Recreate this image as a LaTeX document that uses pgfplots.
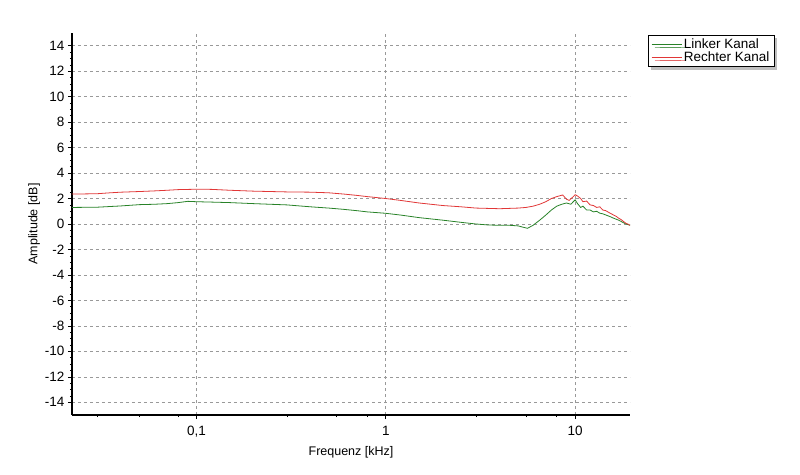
\documentclass[border=0pt]{standalone}
\usepackage{pgfplots}
\pgfplotsset{compat=1.18}
\usepackage{fontspec}
\setmainfont{Liberation Sans}
\usetikzlibrary{shadows}
\definecolor{lgreen}{RGB}{40,130,40}
\definecolor{rred}{RGB}{225,55,55}
\begin{document}
\begin{tikzpicture}[x=1pt,y=1pt]
\path[use as bounding box] (0,0) rectangle (800,474);
\begin{axis}[
  at={(72pt,59pt)}, anchor=south west,
  scale only axis, width=558pt, height=382pt,
  xmode=log, log basis x=10,
  xmin=0.022, xmax=19.5, ymin=-15, ymax=15,
  axis lines=left, axis line style={line width=1.6pt, -},
  xtick={0.1,1,10}, xticklabels={{0,1},1,10},
  minor xtick={0.03,0.05,0.08,0.3,0.55,0.8,3,5.5,8},
  ytick={-14,-12,...,14}, minor y tick num=3,
  tick style={black, line width=0.6pt},
  major tick length=4pt, minor tick length=2pt,
  tick align=outside,
  xmajorgrids, ymajorgrids,
  grid style={gray!80, dashed, line width=0.6pt},
  tick label style={font=\fontsize{13.5}{15}\selectfont},
  xticklabel style={yshift=-4pt},
  /pgf/number format/assume math mode=true,
  xlabel={Frequenz [kHz]}, ylabel={Amplitude [dB]},
  label style={font=\fontsize{12.5}{14}\selectfont},
  xlabel style={yshift=-2pt},
  ylabel style={yshift=-2pt},
  legend style={at={(1.032,0.995)}, anchor=north west, draw=black, line width=0.5pt,
    font=\fontsize{13.5}{15}\selectfont, drop shadow={shadow xshift=3pt, shadow yshift=-3pt, fill=black!50},
    inner xsep=3pt, inner ysep=2pt, row sep=-3pt, fill=white},
  legend cell align=left,
  legend image code/.code={\path (0pt,0pt) -- (30pt,0pt); \draw[#1, line width=0.8pt] (5pt,0pt) -- (26pt,0pt);},
  clip=false,
]
\addplot[lgreen, line width=0.8pt] coordinates {
(0.022,1.3) (0.03,1.32) (0.04,1.42) (0.05,1.52) (0.06,1.55) (0.07,1.6) (0.08,1.68) (0.09,1.78)
(0.1,1.75) (0.12,1.72) (0.15,1.68) (0.2,1.6) (0.3,1.5) (0.4,1.35) (0.5,1.25) (0.6,1.15)
(0.7,1.05) (0.8,0.95) (1.0,0.84) (1.2,0.7) (1.5,0.5) (2.0,0.3) (2.5,0.13) (3.0,0.0)
(3.5,-0.08) (4.0,-0.1) (4.5,-0.1) (5.0,-0.15) (5.6,-0.34) (6.0,-0.1) (6.5,0.3) (7.0,0.7)
(7.5,1.1) (8.0,1.4) (8.5,1.55) (9.0,1.65) (9.5,1.55) (10.0,1.9) (10.3,1.6) (10.7,1.3)
(11.0,1.4) (11.5,1.1) (12.0,1.1) (12.5,0.95) (13.0,1.0) (13.5,0.85) (14.0,0.8) (15.3,0.58)
(16.0,0.45) (17.0,0.3) (18.0,0.1) (18.6,0.0) (19.5,-0.1)
};
\addlegendentry{Linker Kanal}
\addplot[rred, line width=0.8pt] coordinates {
(0.022,2.36) (0.025,2.36) (0.03,2.38) (0.035,2.45) (0.04,2.5) (0.05,2.55) (0.06,2.6) (0.07,2.65)
(0.08,2.7) (0.1,2.73) (0.12,2.72) (0.15,2.65) (0.2,2.58) (0.3,2.52) (0.4,2.5) (0.5,2.45)
(0.6,2.35) (0.7,2.25) (0.8,2.15) (1.0,2.0) (1.2,1.85) (1.5,1.65) (2.0,1.45) (2.5,1.35)
(3.0,1.25) (4.0,1.2) (5.0,1.25) (5.5,1.3) (6.0,1.4) (6.5,1.55) (7.0,1.75) (7.5,2.0)
(8.0,2.15) (8.6,2.28) (9.0,1.95) (9.3,1.85) (9.7,2.1) (10.0,2.3) (10.3,2.2) (10.7,2.0)
(11.0,1.75) (11.5,1.8) (12.0,1.5) (12.5,1.45) (13.0,1.3) (13.5,1.35) (14.0,1.1) (14.5,1.05)
(15.3,0.85) (16.0,0.7) (16.5,0.6) (17.0,0.45) (17.5,0.35) (18.0,0.2) (18.6,0.05) (19.0,0.0) (19.5,-0.1)
};
\addlegendentry{Rechter Kanal}
\end{axis}
\end{tikzpicture}
\end{document}
